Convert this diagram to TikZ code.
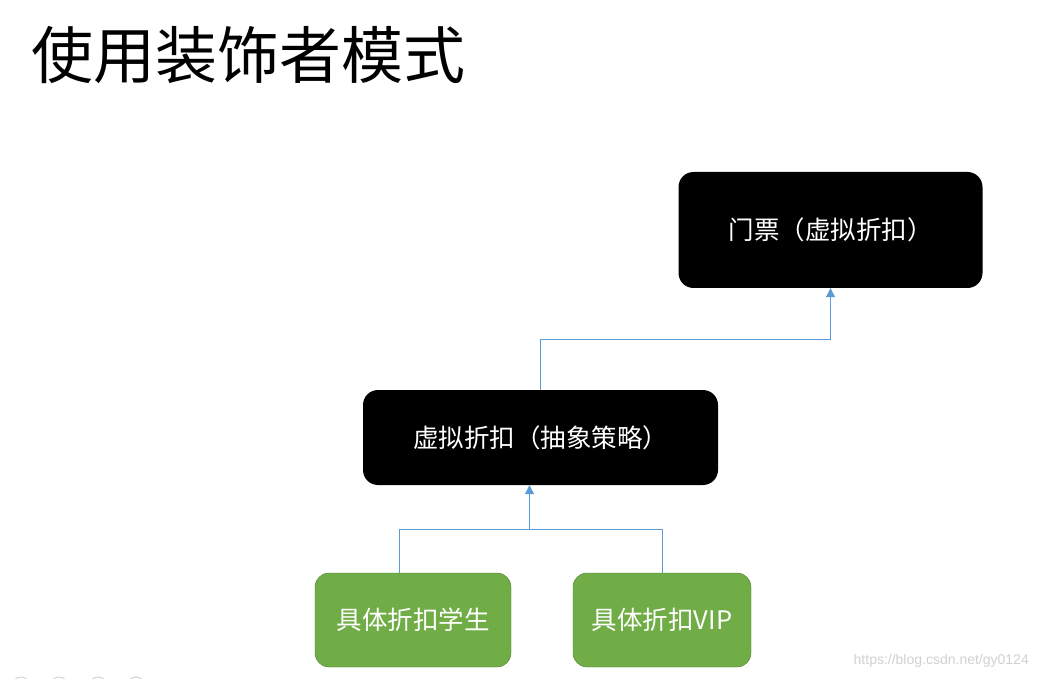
\documentclass[tikz,border=0pt]{standalone}
\usepackage{fontspec}
\newfontfamily\cjk{Noto Sans CJK SC}
\setsansfont{Liberation Sans}
\usetikzlibrary{arrows.meta}
\definecolor{linkblue}{HTML}{5B9BD5}
\definecolor{leafgreen}{HTML}{70AD47}
\definecolor{leafedge}{HTML}{507E32}
\begin{document}
\begin{tikzpicture}[x=1pt, y=-1pt,
    blackbox/.style={fill=black, text=white, rounded corners=15pt, inner sep=0pt,
        font=\cjk\fontsize{25.5}{30}\selectfont},
    greenbox/.style={fill=leafgreen, draw=leafedge, text=white, rounded corners=14pt, inner sep=0pt,
        font=\cjk\fontsize{25.5}{30}\selectfont},
    link/.style={color=linkblue, line width=1pt},
    linkarrow/.style={link, -{Triangle[length=9pt,width=9pt]}}]
    \useasboundingbox[fill=white] (0, 0) rectangle (1037, 679);
    % title
    \node[anchor=west, inner sep=0pt, font=\cjk\fontsize{62}{70}\selectfont] (title) at (31, 55) {使用装饰者模式};
    % boxes
    \node[blackbox, minimum width=304pt, minimum height=116pt] (ticket) at (830.5, 230) {门票（虚拟折扣）};
    \node[blackbox, minimum width=355pt, minimum height=95pt] (virtual) at (540.5, 437.5) {虚拟折扣（抽象策略）};
    \node[greenbox, minimum width=196pt, minimum height=94pt] (student) at (413, 620) {具体折扣学生};
    \node[greenbox, minimum width=178pt, minimum height=94pt] (vip) at (662, 620) {具体折扣VIP};
    % connectors
    \coordinate (ticketjoin) at (830.5, 339.5);
    \coordinate (virtualjoin) at (529.5, 529.5);
    \draw[link] (virtual.north) |- (ticketjoin);
    \draw[linkarrow] (ticketjoin) -- (ticket.south);
    \draw[link] ([xshift=-13.5pt]student.north) |- (virtualjoin);
    \draw[link] ([xshift=0.5pt]vip.north) |- (virtualjoin);
    \draw[linkarrow] (virtualjoin) -- (virtualjoin |- virtual.south);
    % watermark and slide marks
    \node[anchor=east, inner sep=0pt, text=black!18, font=\sffamily\fontsize{14}{16}\selectfont] (mark) at (1029, 661) {https://blog.csdn.net/gy0124};
    \foreach \cx in {21, 59, 98, 136}
        \draw[black!20, line width=0.8pt] (\cx, 686) circle (9);
\end{tikzpicture}
\end{document}
